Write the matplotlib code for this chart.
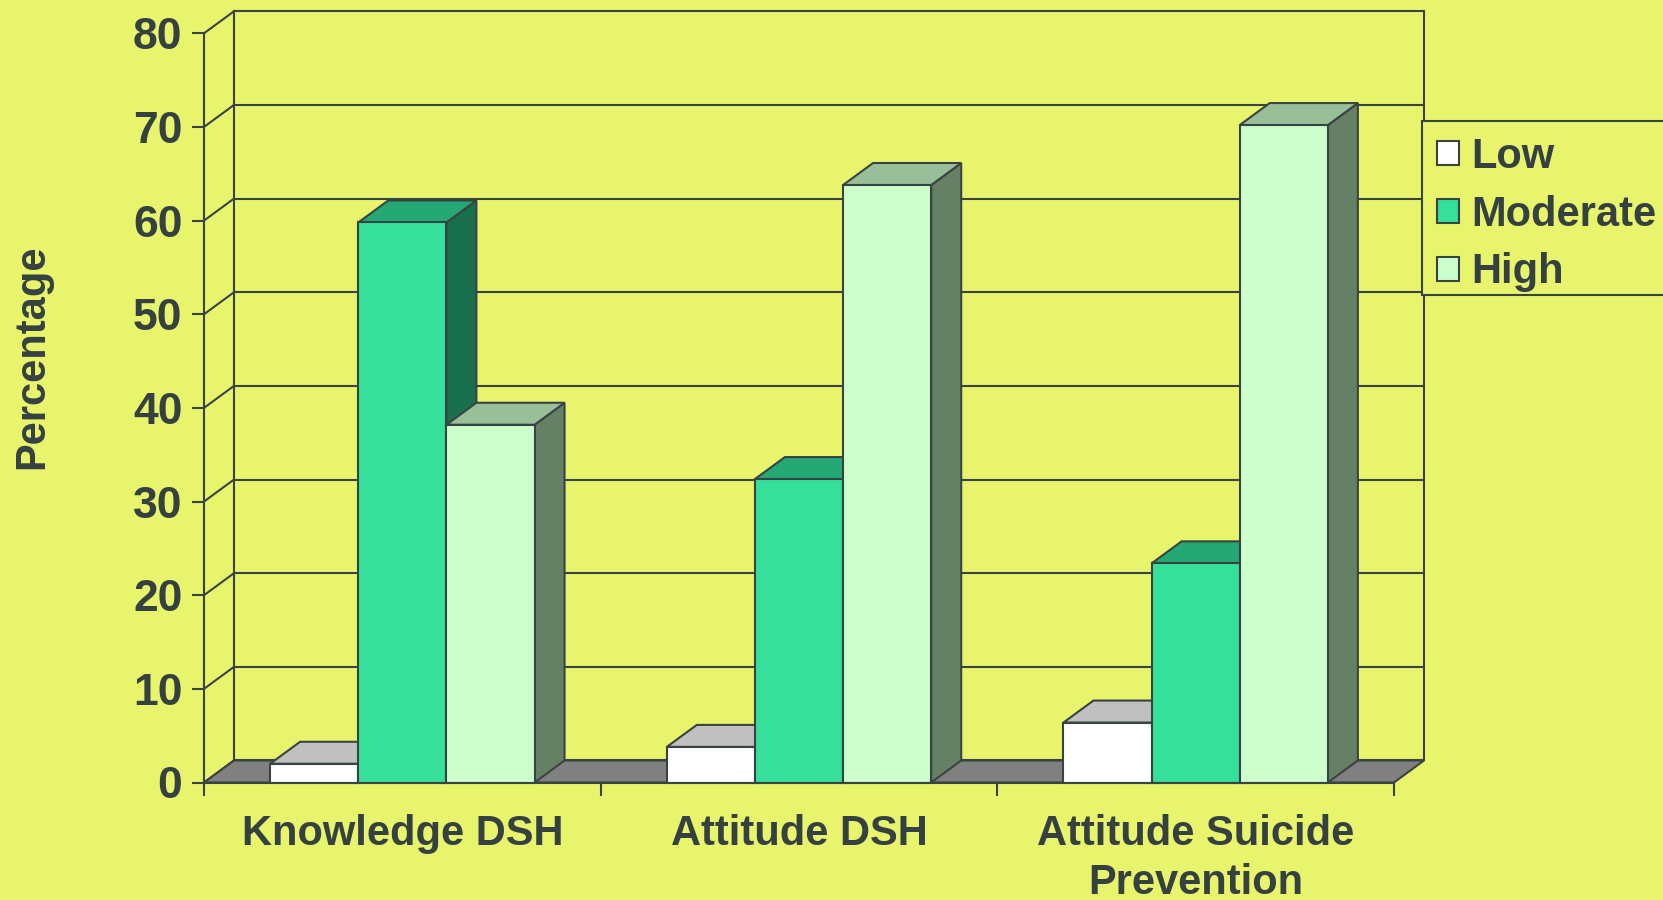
import matplotlib
matplotlib.use("Agg")
import matplotlib.pyplot as plt
from matplotlib.patches import Polygon, Rectangle

# ---- data -------------------------------------------------------------
categories = ["Knowledge DSH", "Attitude DSH", "Attitude Suicide\nPrevention"]
series_names = ["Low", "Moderate", "High"]
low = [2.0, 3.8, 6.4]
moderate = [59.8, 32.4, 23.4]
high = [38.2, 63.8, 70.2]
y_ticks = [0, 10, 20, 30, 40, 50, 60, 70, 80]

# ---- style ------------------------------------------------------------
BG = "#E8F56C"
LINE = "#394343"
TEXT = "#354141"
FLOOR = "#808080"
# (front, top, side) shades for each series
SHADES = {
    "Low": ("#FFFFFF", "#C0C0C0", "#808080"),
    "Moderate": ("#34E09A", "#24A874", "#18704E"),
    "High": ("#CCFFCC", "#99BF99", "#668066"),
}
LW = 1.5
FONT = ["Liberation Sans", "DejaVu Sans"]
plt.rcParams["font.family"] = FONT
plt.rcParams["font.weight"] = "bold"

# oblique depth offset of the 3-D box, in data units
DEPTH_X = 0.0756
DEPTH_Y = 2.35

W, H = 1663, 900
fig = plt.figure(figsize=(W / 100, H / 100), dpi=100, facecolor=BG)
ax = fig.add_axes([204 / W, 117.5 / H, 1190 / W, 749.2 / H])
ax.set_facecolor("none")
ax.set_xlim(0, len(categories))
ax.set_ylim(0, 80)

ymax = y_ticks[-1]
ncat = len(categories)

# back wall gridlines and left side wall diagonals
for v in y_ticks:
    ax.plot([DEPTH_X, ncat + DEPTH_X], [v + DEPTH_Y, v + DEPTH_Y],
            color=LINE, lw=LW, zorder=1, clip_on=False, solid_capstyle="butt")
    ax.plot([0, DEPTH_X], [v, v + DEPTH_Y], color=LINE, lw=LW, zorder=1,
            clip_on=False)
for xb in (DEPTH_X, ncat + DEPTH_X):
    ax.plot([xb, xb], [DEPTH_Y, ymax + DEPTH_Y], color=LINE, lw=LW,
            zorder=1, clip_on=False)

# floor
ax.add_patch(Polygon([(0, 0), (ncat, 0), (ncat + DEPTH_X, DEPTH_Y),
                      (DEPTH_X, DEPTH_Y)], closed=True, facecolor=FLOOR,
                     edgecolor=LINE, lw=LW, zorder=2, clip_on=False))

# bars: drawn left to right, each as side, top, then front face
nser = len(series_names)
group = 2 / 3
bw = group / nser
values = [low, moderate, high]
z = 3
for i in range(ncat):
    for j, name in enumerate(series_names):
        h = values[j][i]
        x0 = i + (1 - group) / 2 + j * bw
        x1 = x0 + bw
        front, top, side = SHADES[name]
        ax.add_patch(Polygon([(x1, 0), (x1 + DEPTH_X, DEPTH_Y),
                              (x1 + DEPTH_X, h + DEPTH_Y), (x1, h)],
                             closed=True, facecolor=side, edgecolor=LINE,
                             lw=LW, zorder=z, clip_on=False))
        ax.add_patch(Polygon([(x0, h), (x1, h), (x1 + DEPTH_X, h + DEPTH_Y),
                              (x0 + DEPTH_X, h + DEPTH_Y)], closed=True,
                             facecolor=top, edgecolor=LINE, lw=LW, zorder=z,
                             clip_on=False))
        ax.bar(x0, h, width=bw, align="edge", color=front, edgecolor=LINE,
               linewidth=LW, zorder=z, clip_on=False)
        z += 0.01

# axes: front vertical axis and front floor edge
for s in ("top", "right"):
    ax.spines[s].set_visible(False)
for s in ("left", "bottom"):
    ax.spines[s].set_color(LINE)
    ax.spines[s].set_linewidth(LW)
    ax.spines[s].set_zorder(10)

ax.set_yticks(y_ticks)
ax.set_yticklabels([str(v) for v in y_ticks])
ax.tick_params(axis="y", direction="out", length=9, width=LW, color=LINE,
               pad=6.5, labelsize=32, labelcolor=TEXT)
ax.set_xticks(range(ncat + 1))
ax.set_xticklabels([])
ax.tick_params(axis="x", which="major", direction="out", length=9, width=LW,
               color=LINE)
ax.set_xticks([i + 0.5 for i in range(ncat)], categories, minor=True)
ax.tick_params(axis="x", which="minor", length=0, pad=23, labelsize=30,
               labelcolor=TEXT)
for lbl in ax.get_xticklabels(minor=True):
    lbl.set_multialignment("center")
    lbl.set_linespacing(1.27)

ax.set_ylabel("Percentage", fontsize=30, color=TEXT, fontweight="bold",
              va="center")
ax.yaxis.set_label_coords(-0.1445, 0.568)

# legend box (runs off the right edge of the figure)
fig.patches.append(Rectangle((1422 / W, 1 - 295 / H), 280 / W, 174 / H,
                             transform=fig.transFigure, facecolor=BG,
                             edgecolor=LINE, lw=LW, zorder=4))
handles = [Rectangle((0, 0), 1, 1, facecolor=SHADES[n][0], edgecolor=LINE,
                     lw=LW) for n in series_names]
leg = fig.legend(handles, series_names, loc="upper left",
                 bbox_to_anchor=(1437 / W, 1 - 136.6 / H),
                 borderaxespad=0, frameon=False, fontsize=30,
                 handlelength=0.52, handleheight=0.52, handletextpad=0.3,
                 labelspacing=0.43, borderpad=0, labelcolor=TEXT)
leg.set_zorder(20)

fig.savefig("out.png", dpi=100, facecolor=BG)
